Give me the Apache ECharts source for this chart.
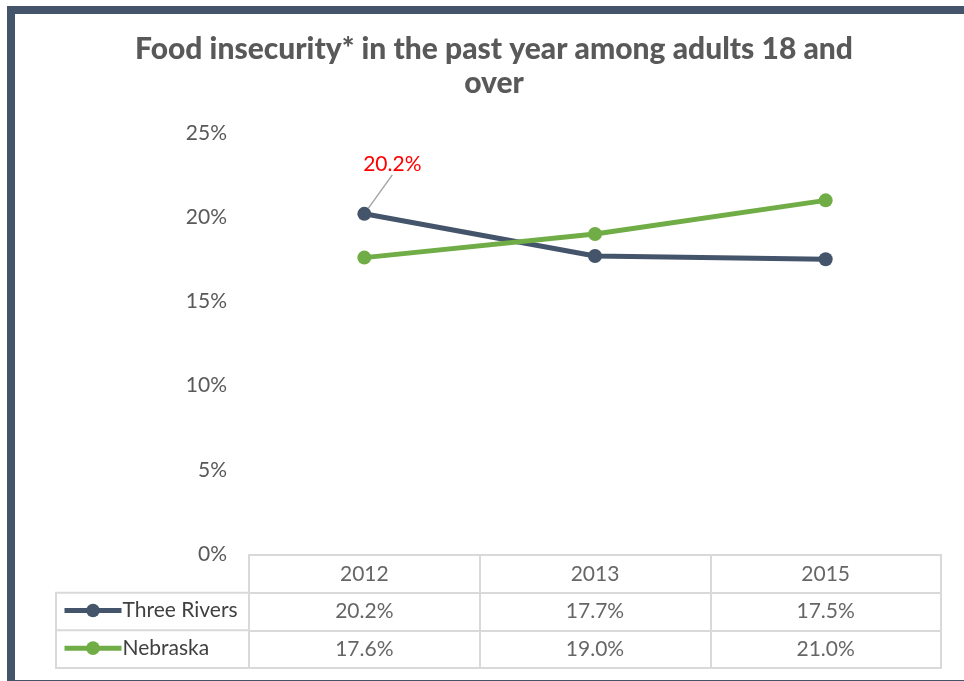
<!DOCTYPE html>
<html>
<head>
<meta charset="utf-8">
<script src="https://cdn.jsdelivr.net/npm/echarts@6/dist/echarts.min.js"></script>
<style>
  html, body { margin: 0; padding: 0; background: #ffffff; }
  #chart { width: 964px; height: 681px; }
</style>
</head>
<body>
<div id="chart"></div>
<script>
// Survey years and the share of adults reporting food insecurity (%)
const years = ['2012', '2013', '2015'];
const threeRivers = [20.2, 17.7, 17.5];
const nebraska = [17.6, 19.0, 21.0];
const seriesNames = ['Three Rivers', 'Nebraska'];
const yTicks = { min: 0, max: 25, interval: 5 };

const DARK = '#44546A';
const GREEN = '#70AD47';
const TEXT = '#595959';
const TABLE_TEXT = '#404040';
const RULE = '#D9D9D9';
const FONT = 'Lato, "Open Sans", sans-serif';

// layout of the plot and of the data table under it
const W = 964, H = 681;
const plotLeft = 249, plotRight = 23, plotTop = 133, plotBottom = 554;
const tableTop = 555, tableBottom = 668, tableKeyLeft = 56;
const rowH = (tableBottom - tableTop) / 3;
const keyH = 17;

const pct = v => v.toFixed(1) + '%';

const chart = echarts.init(document.getElementById('chart'), null, { renderer: 'canvas' });

const tableRow = (name, values) => ({
  type: 'scatter',
  xAxisIndex: 1,
  yAxisIndex: 1,
  symbolSize: 0,
  silent: true,
  tooltip: { show: false },
  data: years.map((y, i) => [y, name, values ? values[i] : y]),
  label: {
    show: true,
    position: 'inside',
    fontFamily: FONT,
    fontSize: 21,
    color: TABLE_TEXT,
    formatter: p => values ? pct(p.value[2]) : p.value[2]
  }
});

// one legend per table row, so each key sits in its own row cell
const rowLegend = (name, color, row) => ({
  data: [{ name, itemStyle: { color }, lineStyle: { color, width: 5 } }],
  orient: 'vertical',
  left: 62,
  top: tableTop + rowH * (row + 0.5) - 11.5,
  padding: 0,
  itemWidth: 57,
  itemHeight: keyH,
  textStyle: {
    fontFamily: FONT, fontSize: 21, color: TABLE_TEXT,
    lineHeight: keyH, padding: [0, 0, 0, -4]
  }
});

chart.setOption({
  animation: false,
  backgroundColor: '#ffffff',
  title: {
    text: 'Food insecurity* in the past year among adults 18 and\nover',
    left: 489,
    textAlign: 'center',
    top: 27,
    textStyle: {
      fontFamily: FONT,
      fontWeight: 900,
      fontSize: 30,
      lineHeight: 34,
      color: TEXT
    }
  },
  legend: [
    rowLegend(seriesNames[0], DARK, 1),
    rowLegend(seriesNames[1], GREEN, 2)
  ],
  grid: [
    { left: plotLeft, right: plotRight, top: plotTop, bottom: H - plotBottom },
    {
      left: plotLeft, right: plotRight, top: tableTop, height: tableBottom - tableTop,
      show: true, borderColor: RULE, borderWidth: 2, backgroundColor: 'transparent'
    }
  ],
  xAxis: [
    {
      type: 'category', gridIndex: 0, data: years, boundaryGap: true,
      axisLine: { show: false }, axisTick: { show: false }, axisLabel: { show: false }
    },
    {
      type: 'category', gridIndex: 1, data: years, boundaryGap: true,
      axisLine: { show: false }, axisTick: { show: false }, axisLabel: { show: false },
      splitLine: { show: true, lineStyle: { color: RULE, width: 2 } }
    }
  ],
  yAxis: [
    {
      type: 'value', gridIndex: 0,
      min: yTicks.min, max: yTicks.max, interval: yTicks.interval,
      axisLine: { show: false }, axisTick: { show: false },
      splitLine: { show: false },
      axisLabel: {
        formatter: '{value}%', margin: 22,
        fontFamily: FONT, fontSize: 21, color: TEXT
      }
    },
    {
      type: 'category', gridIndex: 1, inverse: true,
      data: ['', seriesNames[0], seriesNames[1]],
      axisLine: { show: false }, axisTick: { show: false }, axisLabel: { show: false },
      splitLine: { show: true, lineStyle: { color: RULE, width: 2 } }
    }
  ],
  series: [
    {
      name: seriesNames[0],
      type: 'line',
      xAxisIndex: 0, yAxisIndex: 0,
      data: threeRivers.map((v, i) => i === 0 ? {
        value: v,
        label: {
          show: true, position: 'top', formatter: p => pct(p.value),
          fontFamily: FONT, fontSize: 21, color: '#FF0000'
        },
        labelLine: { show: true, lineStyle: { color: '#A6A6A6', width: 1.5 } }
      } : v),
      labelLayout: p => p.dataIndex === 0 ? { dx: 28, dy: -27 } : {},
      symbol: 'circle', symbolSize: 14,
      lineStyle: { color: DARK, width: 5 },
      itemStyle: { color: DARK }
    },
    {
      name: seriesNames[1],
      type: 'line',
      xAxisIndex: 0, yAxisIndex: 0,
      data: nebraska,
      symbol: 'circle', symbolSize: 14,
      lineStyle: { color: GREEN, width: 5 },
      itemStyle: { color: GREEN }
    },
    tableRow('', null),
    tableRow(seriesNames[0], threeRivers),
    tableRow(seriesNames[1], nebraska)
  ],
  graphic: [
    // key column of the data table
    {
      type: 'rect', silent: true,
      shape: { x: tableKeyLeft, y: tableTop + rowH, width: plotLeft - tableKeyLeft, height: rowH * 2 },
      style: { fill: 'none', stroke: RULE, lineWidth: 2 }
    },
    {
      type: 'line', silent: true,
      shape: { x1: tableKeyLeft, y1: tableTop + rowH * 2, x2: plotLeft, y2: tableTop + rowH * 2 },
      style: { stroke: RULE, lineWidth: 2 }
    },
    // dark frame around the chart
    {
      type: 'rect', silent: true, z: 100,
      shape: { x: 11, y: 10, width: W + 20, height: H - 7 },
      style: { fill: 'none', stroke: DARK, lineWidth: 8 }
    }
  ]
});
</script>
</body>
</html>
